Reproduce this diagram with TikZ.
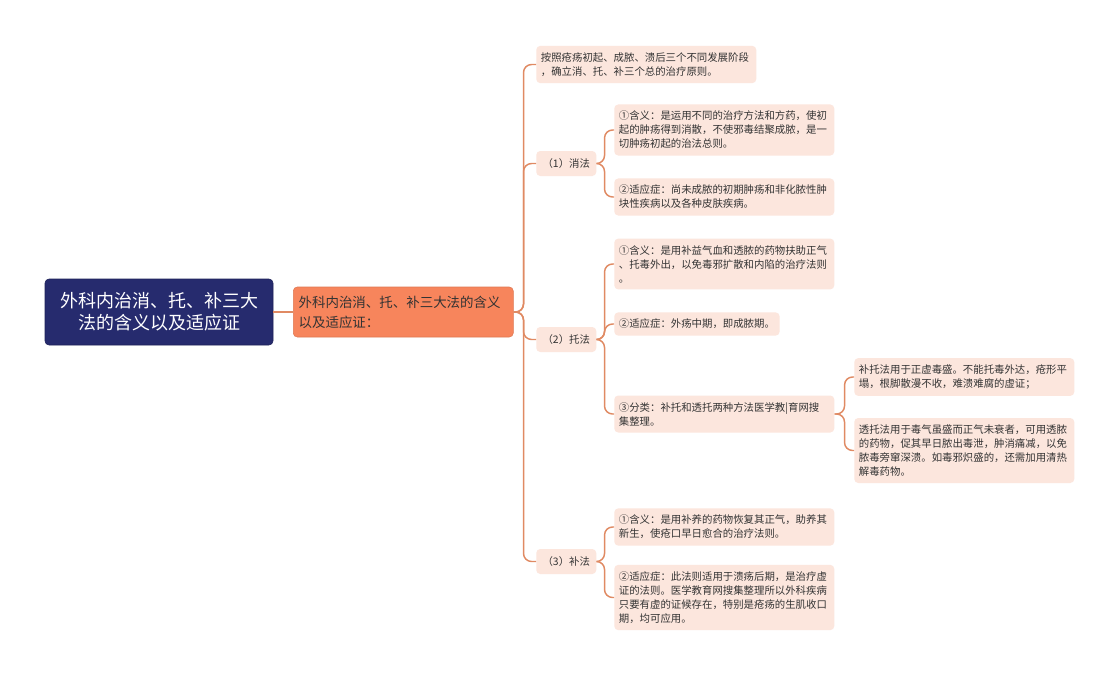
\documentclass[tikz,border=0pt]{standalone}
\usepackage{fontspec}
\setmainfont{Noto Sans CJK SC}
\definecolor{navy}{HTML}{262B6E}
\definecolor{mainc}{HTML}{F7855C}
\definecolor{leafc}{HTML}{FCE6DD}
\definecolor{linkc}{HTML}{E08A63}
\definecolor{textc}{HTML}{333333}
\begin{document}
\begin{tikzpicture}[x=0.75pt,y=-0.75pt,
  link/.style={draw=linkc,line width=1.1pt,rounded corners=6pt},
  rootbox/.style={fill=navy,draw=navy!80!black,rounded corners=3pt,text=white,align=center,
    minimum width=171pt,minimum height=49.5pt,font=\fontsize{13.5}{16.5}\selectfont},
  mainbox/.style={fill=mainc,draw=mainc!90!black,rounded corners=3pt,anchor=west,align=left,
    text width=157pt,inner xsep=4pt,minimum height=37.5pt,text=textc,font=\fontsize{10.1}{15}\selectfont},
  tagbox/.style={fill=leafc,rounded corners=3pt,anchor=west,minimum width=45pt,minimum height=18.75pt,
    inner sep=2pt,text=textc,font=\fontsize{7.8}{10.5}\selectfont},
  leaf/.style={fill=leafc,rounded corners=3pt,anchor=west,align=left,text width=158pt,
    inner xsep=3.5pt,inner ysep=5pt,text=textc,font=\fontsize{7.8}{10.5}\selectfont}]
  \useasboundingbox[fill=white] (0,0) rectangle (1119,675);
  % root and main topic
  \node[rootbox] (root) at (159,312) {外科内治消、托、补三大\\法的含义以及适应证};
  \node[mainbox] (main) at (293,312) {外科内治消、托、补三大法的含义\\以及适应证：};
  % first level
  \node[leaf] (top) at (536,64.5) {按照疮疡初起、成脓、溃后三个不同发展阶段\\，确立消、托、补三个总的治疗原则。};
  \node[tagbox] (xiao) at (536,163.5) {（1）消法};
  \node[tagbox] (tuo) at (536,339.5) {（2）托法};
  \node[tagbox] (bu) at (536,561.5) {（3）补法};
  % xiao
  \node[leaf] (x1) at (614,130) {①含义：是运用不同的治疗方法和方药，使初\\起的肿疡得到消散，不使邪毒结聚成脓，是一\\切肿疡初起的治法总则。};
  \node[leaf] (x2) at (614,197) {②适应症：尚未成脓的初期肿疡和非化脓性肿\\块性疾病以及各种皮肤疾病。};
  % tuo
  \node[leaf] (t1) at (614,264) {①含义：是用补益气血和透脓的药物扶助正气\\、托毒外出，以免毒邪扩散和内陷的治疗法则\\。};
  \node[leaf,text width=117pt] (t2) at (614,324) {②适应症：外疡中期，即成脓期。};
  \node[leaf] (t3) at (614,414) {③分类：补托和透托两种方法医学教|育网搜\\集整理。};
  \node[leaf] (f1) at (854,377) {补托法用于正虚毒盛。不能托毒外达，疮形平\\塌，根脚散漫不收，难溃难腐的虚证；};
  \node[leaf] (f2) at (854,450.5) {透托法用于毒气虽盛而正气未衰者，可用透脓\\的药物，促其早日脓出毒泄，肿消痛减，以免\\脓毒旁窜深溃。如毒邪炽盛的，还需加用清热\\解毒药物。};
  % bu
  \node[leaf] (b1) at (614,527) {①含义：是用补养的药物恢复其正气，助养其\\新生，使疮口早日愈合的治疗法则。};
  \node[leaf] (b2) at (614,597.5) {②适应症：此法则适用于溃疡后期，是治疗虚\\证的法则。医学教育网搜集整理所以外科疾病\\只要有虚的证候存在，特别是疮疡的生肌收口\\期，均可应用。};
  % connectors
  \draw[link] (root) -- (main);
  \foreach \n in {top,xiao,tuo,bu}
    \draw[link] (main.east) -- ++(10,0) |- (\n.west);
  \foreach \n in {x1,x2}
    \draw[link] (xiao.east) -- ++(8,0) |- (\n.west);
  \foreach \n in {t1,t2,t3}
    \draw[link] (tuo.east) -- ++(8,0) |- (\n.west);
  \foreach \n in {f1,f2}
    \draw[link] (t3.east) -- ++(10,0) |- (\n.west);
  \foreach \n in {b1,b2}
    \draw[link] (bu.east) -- ++(8,0) |- (\n.west);
\end{tikzpicture}
\end{document}
